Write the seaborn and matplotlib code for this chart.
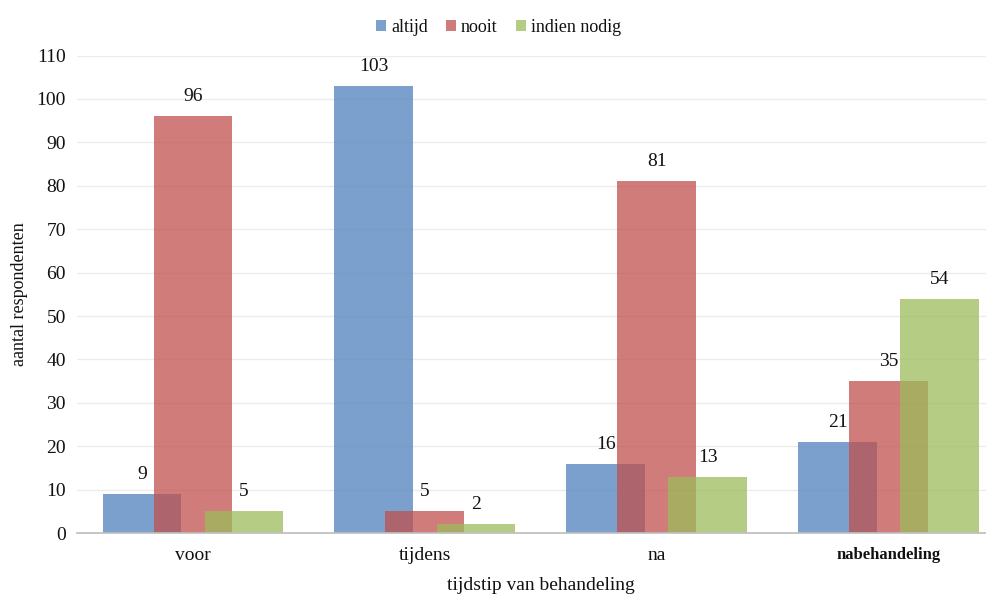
import matplotlib
matplotlib.use("Agg")
import matplotlib.pyplot as plt
import seaborn as sns
import pandas as pd
from matplotlib.patches import Patch

# Survey counts per moment of treatment
categories = ["voor", "tijdens", "na", "nabehandeling"]
series = ["altijd", "nooit", "indien nodig"]
altijd = [9, 103, 16, 21]
nooit = [96, 5, 81, 35]
indien_nodig = [5, 2, 13, 54]
y_ticks = list(range(0, 111, 10))

colors = ["#4F81BD", "#C0504D", "#9BBB59"]
bar_alpha = 0.75
text_color = "#111111"

df = pd.DataFrame({
    "tijdstip": categories * 3,
    "antwoord": [s for s in series for _ in categories],
    "aantal": altijd + nooit + indien_nodig,
})

sns.set_theme(style="white")
plt.rcParams["font.family"] = ["Liberation Serif", "DejaVu Serif"]

fig = plt.figure(figsize=(9.87, 5.97), dpi=100)
ax = fig.add_axes([0.078, 0.107, 0.94, 0.80])

# Bars overlap their neighbours: wide bars on a narrow dodge step
sns.barplot(data=df, x="tijdstip", y="aantal", hue="antwoord",
            order=categories, hue_order=series, palette=colors,
            saturation=1, width=0.66, gap=-0.545, alpha=bar_alpha,
            errorbar=None, linewidth=0, legend=False, ax=ax)

for cont in ax.containers:
    ax.bar_label(cont, padding=8, fontsize=14, color=text_color)

ax.set_xlim(-0.5, 3.5)
ax.set_ylim(0, 110)
ax.set_yticks(y_ticks)
ax.yaxis.grid(True, color="#ececec", linewidth=1)
ax.set_axisbelow(True)
for side in ["top", "right", "left"]:
    ax.spines[side].set_visible(False)
ax.spines["bottom"].set_color("#bfbfbf")
ax.tick_params(axis="both", length=0, labelsize=14, colors=text_color)
ax.tick_params(axis="y", pad=8)
ax.tick_params(axis="x", pad=10)
for lbl in ax.get_xticklabels():
    if lbl.get_text() == "nabehandeling":
        lbl.set_fontweight("bold")
        lbl.set_fontsize(12)

ax.set_ylabel("aantal respondenten", fontsize=13, color=text_color, labelpad=6)
ax.set_xlabel("tijdstip van behandeling", fontsize=14, color=text_color, labelpad=9)

handles = [Patch(facecolor=c, alpha=bar_alpha, edgecolor="none") for c in colors]
fig.legend(handles, series, loc="upper center", bbox_to_anchor=(0.505, 0.995),
           ncol=3, frameon=False, prop={"family": "Liberation Serif", "size": 13},
           labelcolor=text_color, handlelength=0.55, handleheight=0.55,
           handletextpad=0.3, columnspacing=1.0)

fig.savefig("out.png", dpi=100, facecolor="white")
